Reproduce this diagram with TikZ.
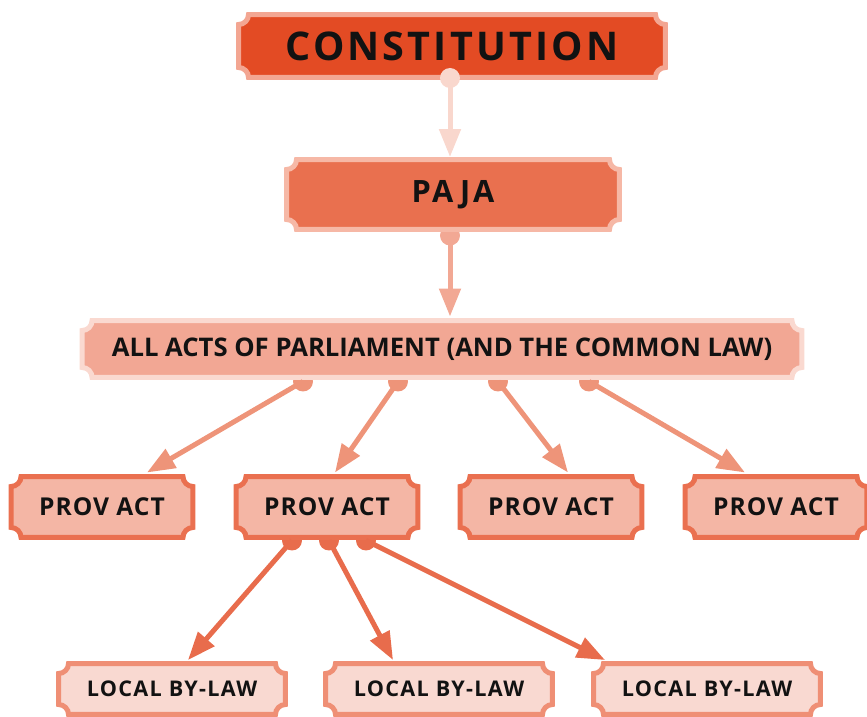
\documentclass[tikz,border=0pt]{standalone}
\usepackage{fontspec}
\setmainfont{Open Sans}
\usetikzlibrary{arrows.meta,backgrounds,calc}
\pgfdeclarelayer{back}
\pgfsetlayers{back,background,main}
\definecolor{constfill}{HTML}{E34B24}
\definecolor{constline}{HTML}{F3A692}
\definecolor{pajafill}{HTML}{E9704F}
\definecolor{pajaline}{HTML}{F6B8A6}
\definecolor{actsfill}{HTML}{F2A794}
\definecolor{actsline}{HTML}{FAD9D0}
\definecolor{provfill}{HTML}{F4B6A5}
\definecolor{provline}{HTML}{EA7050}
\definecolor{lawfill}{HTML}{F9D9D1}
\definecolor{lawline}{HTML}{EF8F75}
\definecolor{arrowa}{HTML}{F9D7CD}
\definecolor{arrowb}{HTML}{F2A894}
\definecolor{arrowc}{HTML}{EE9479}
\definecolor{arrowd}{HTML}{E86C4C}
% notch radius of the ticket corners
\newcommand{\nr}{0.2cm}
% ticket outline behind a node: name, fill, border
\newcommand{\ticket}[3]{%
  \path[fill=#2, draw=#3, line width=0.1cm]
    ([xshift=\nr]#1.north west) -- ([xshift=-\nr]#1.north east)
    arc[start angle=180, end angle=270, radius=\nr]
    -- ([yshift=\nr]#1.south east)
    arc[start angle=90, end angle=180, radius=\nr]
    -- ([xshift=\nr]#1.south west)
    arc[start angle=0, end angle=90, radius=\nr]
    -- ([yshift=-\nr]#1.north west)
    arc[start angle=270, end angle=360, radius=\nr]
    -- cycle;
}
\tikzset{
  tkt/.style={
    inner sep=0pt,
    outer sep=0pt,
    align=center,
    text=black!93
  },
  constbox/.style={
    tkt,
    minimum width=8.54cm,
    minimum height=1.26cm,
    font=\fontsize{22.5}{26}\selectfont\bfseries\addfontfeatures{LetterSpace=8}
  },
  pajabox/.style={
    tkt,
    minimum width=6.66cm,
    minimum height=1.4cm,
    font=\fontsize{17.5}{20}\selectfont\bfseries\addfontfeatures{LetterSpace=9}
  },
  actsbox/.style={
    tkt,
    minimum width=14.4cm,
    minimum height=1.14cm,
    font=\fontsize{14.6}{17}\selectfont\bfseries
  },
  provbox/.style={
    tkt,
    minimum width=3.64cm,
    minimum height=1.22cm,
    font=\fontsize{14}{16}\selectfont\bfseries\addfontfeatures{LetterSpace=4}
  },
  lawbox/.style={
    tkt,
    minimum width=4.54cm,
    minimum height=1.02cm,
    font=\fontsize{12.3}{14}\selectfont\bfseries\addfontfeatures{LetterSpace=6}
  },
  flow/.style={
    -{Triangle[length=0.56cm, width=0.42cm]},
    line width=0.1cm
  }
}
\begin{document}
\begin{tikzpicture}[x=0.02cm, y=0.02cm]
  \useasboundingbox (0,0) rectangle (867,-717);

  \node[constbox] (const) at (452,-46) {CONSTITUTION};
  \node[pajabox] (paja) at (453,-194.5) {PAJA};
  \node[actsbox] (acts) at (442,-349) {ALL ACTS OF PARLIAMENT (AND THE COMMON LAW)};
  \node[provbox] (prov1) at (102,-507) {PROV ACT};
  \node[provbox] (prov2) at (327,-507) {PROV ACT};
  \node[provbox] (prov3) at (551,-507) {PROV ACT};
  \node[provbox] (prov4) at (776,-507) {PROV ACT};
  \node[lawbox] (law1) at (172,-689) {LOCAL BY-LAW};
  \node[lawbox] (law2) at (439,-689) {LOCAL BY-LAW};
  \node[lawbox] (law3) at (707,-689) {LOCAL BY-LAW};

  \begin{scope}[on background layer]
    \foreach \n/\f/\b in {const/constfill/constline, paja/pajafill/pajaline,
        acts/actsfill/actsline, prov1/provfill/provline, prov2/provfill/provline,
        prov3/provfill/provline, prov4/provfill/provline,
        law1/lawfill/lawline, law2/lawfill/lawline, law3/lawfill/lawline}
      \ticket{\n}{\f}{\b};
  \end{scope}

  % start dots
  \coordinate (k0) at ($(const.south)+(-2,-0.5)$);
  \coordinate (k1) at ($(paja.south)+(-3,-6)$);
  \coordinate (ka) at ($(acts.south)+(-139,-4)$);
  \coordinate (kb) at ($(acts.south)+(-44,-4)$);
  \coordinate (kc) at ($(acts.south)+(56,-4)$);
  \coordinate (kd) at ($(acts.south)+(147,-4)$);
  \coordinate (ke) at ($(prov2.south)+(-35,-3)$);
  \coordinate (kf) at ($(prov2.south)+(2,-3)$);
  \coordinate (kg) at ($(prov2.south)+(39,-3)$);

  \fill[arrowa] (k0) circle[radius=0.2cm];
  \draw[flow, arrowa] (k0) -- ($(paja.north)+(-3,2.5)$);
  \begin{pgfonlayer}{back}
    \fill[arrowb] (k1) circle[radius=0.2cm];
  \end{pgfonlayer}
  \draw[flow, arrowb] (k1) -- ($(acts.north)+(8,4)$);

  \foreach \k/\t/\dx in {ka/prov1/45, kb/prov2/8, kc/prov3/17, kd/prov4/-31} {
    \begin{pgfonlayer}{back}
      \fill[arrowc] (\k) circle[radius=0.2cm];
    \end{pgfonlayer}
    \draw[flow, arrowc] (\k) -- ($(\t.north)+(\dx,4)$);
  }
  \foreach \k/\t/\dx in {ke/law1/16, kf/law2/-46, kg/law3/-102} {
    \begin{pgfonlayer}{back}
      \fill[arrowd] (\k) circle[radius=0.2cm];
    \end{pgfonlayer}
    \draw[flow, arrowd] (\k) -- ($(\t.north)+(\dx,3.5)$);
  }
\end{tikzpicture}
\end{document}
